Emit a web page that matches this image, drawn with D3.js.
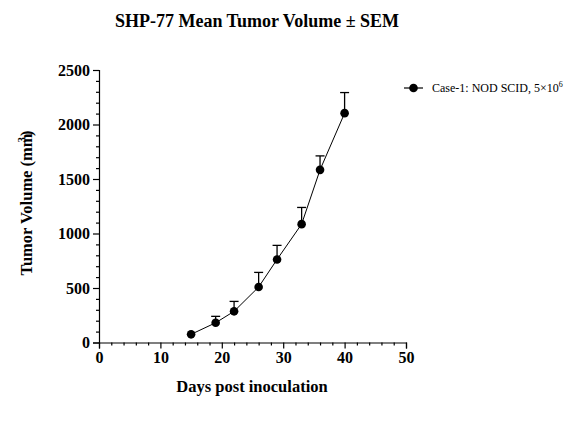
<!DOCTYPE html>
<html><head><meta charset="utf-8">
<script src="https://cdn.jsdelivr.net/npm/d3@7"></script>
<style>body{margin:0;background:#fff}svg{display:block}text{font-family:"Liberation Serif","Times New Roman",serif}</style>
</head><body>
<script>
const days = [15, 19, 22, 26, 29, 33, 36, 40];
const meanVolume = [75, 181, 286, 509, 762, 1086, 1584, 2104];
const semUpper = [0, 59, 91, 134, 129, 153, 128, 189];
const xTicks = [0, 10, 20, 30, 40, 50];
const yTicks = [0, 500, 1000, 1500, 2000, 2500];
const seriesName = "Case-1: NOD SCID, 5×10";

const W = 577, H = 427;
const svg = d3.select("body").append("svg").attr("width", W).attr("height", H);
const x = d3.scaleLinear().domain([0, 50]).range([99, 406]);
const y = d3.scaleLinear().domain([0, 2500]).range([342.5, 70]);

// title
svg.append("text").attr("x", 257).attr("y", 27).attr("text-anchor", "middle")
  .attr("font-weight", "bold").attr("font-size", 18).text("SHP-77 Mean Tumor Volume ± SEM");

// axes
const fmt = d3.format("d");
svg.append("g").attr("transform", `translate(0,${y(0)})`)
  .call(d3.axisBottom(x).tickValues(xTicks).tickSize(6).tickPadding(3).tickFormat(fmt));
svg.append("g").attr("transform", `translate(0,${y(0)})`)
  .call(d3.axisBottom(x).tickValues(d3.range(0, 51, 2).filter(d => d % 10)).tickSize(3).tickFormat(""))
  .select(".domain").remove();
svg.append("g").attr("transform", `translate(${x(0)},0)`)
  .call(d3.axisLeft(y).tickValues(yTicks).tickSize(6).tickPadding(3).tickFormat(fmt));
svg.append("g").attr("transform", `translate(${x(0)},0)`)
  .call(d3.axisLeft(y).tickValues(d3.range(0, 2501, 100).filter(d => d % 500)).tickSize(3).tickFormat(""))
  .select(".domain").remove();
svg.selectAll(".domain").attr("stroke-width", 1.2);
svg.selectAll(".tick line").attr("stroke-width", 1.2);
svg.selectAll(".tick text").attr("font-family", "Liberation Serif").attr("font-weight", "bold").attr("font-size", 16).attr("fill", "#000");

// axis titles
svg.append("text").attr("x", 252).attr("y", 392).attr("text-anchor", "middle")
  .attr("font-weight", "bold").attr("font-size", 16.5).text("Days post inoculation");
const yl = svg.append("text").attr("transform", "translate(32,203) rotate(-90)").attr("text-anchor", "middle")
  .attr("font-weight", "bold").attr("font-size", 16.5);
yl.append("tspan").text("Tumor Volume (mm");
yl.append("tspan").attr("dx", -9).attr("dy", -7).attr("font-size", 11).text("3");
yl.append("tspan").attr("dx", 1).attr("dy", 7).text(")");

// data
const data = days.map((d, i) => ({d, v: meanVolume[i], e: semUpper[i]}));
svg.append("path").datum(data).attr("fill", "none").attr("stroke", "#000").attr("stroke-width", 1)
  .attr("d", d3.line().x(p => x(p.d)).y(p => y(p.v)));
const eb = svg.append("g").attr("stroke", "#000").attr("stroke-width", 1.3);
data.filter(p => p.e > 0).forEach(p => {
  eb.append("line").attr("x1", x(p.d)).attr("x2", x(p.d)).attr("y1", y(p.v)).attr("y2", y(p.v + p.e));
  eb.append("line").attr("x1", x(p.d) - 4.5).attr("x2", x(p.d) + 4.5).attr("y1", y(p.v + p.e)).attr("y2", y(p.v + p.e));
});
svg.append("g").selectAll("circle").data(data).join("circle")
  .attr("cx", p => x(p.d)).attr("cy", p => y(p.v)).attr("r", 4.3).attr("fill", "#000");

// legend
const lg = svg.append("g");
lg.append("line").attr("x1", 404).attr("x2", 423).attr("y1", 88).attr("y2", 88).attr("stroke", "#000").attr("stroke-width", 1.2);
lg.append("circle").attr("cx", 413.5).attr("cy", 88).attr("r", 4.3).attr("fill", "#000");
const lt = lg.append("text").attr("x", 432).attr("y", 92).attr("font-size", 12);
lt.append("tspan").text(seriesName);
lt.append("tspan").attr("dy", -5).attr("font-size", 8).text("6");
</script>
</body></html>
